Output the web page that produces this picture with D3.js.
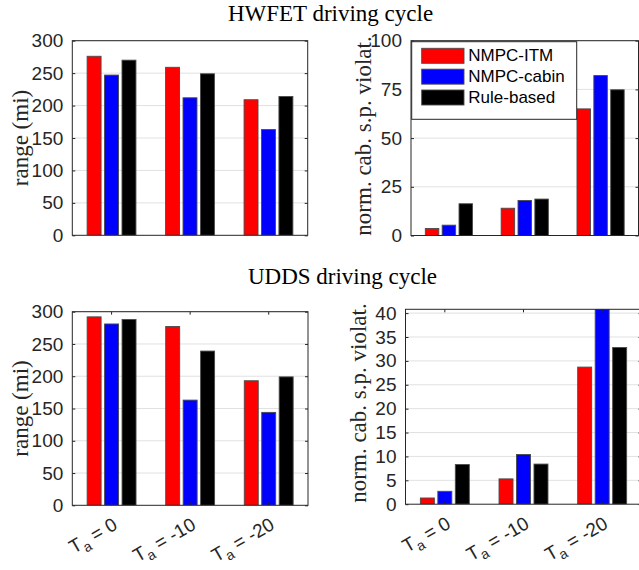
<!DOCTYPE html>
<html>
<head>
<meta charset="utf-8">
<script src="https://cdn.jsdelivr.net/npm/d3@7"></script>
<style>
  html, body { margin: 0; padding: 0; background: #fff; }
  svg { display: block; }
</style>
</head>
<body>
<svg id="chart" width="639" height="570"></svg>
<script>
// Ambient temperature cases (category labels: T_a = value)
const tempLabels = ["0", "-10", "-20"];
const seriesNames = ["NMPC-ITM", "NMPC-cabin", "Rule-based"];
const seriesColors = ["#ff0000", "#0000ff", "#000000"];

// HWFET cycle
const hwfetRangeITM   = [276, 259, 209];
const hwfetRangeCabin = [247, 212, 163];
const hwfetRangeRule  = [270, 249, 214];
const hwfetViolITM    = [3.6, 14.0, 65.0];
const hwfetViolCabin  = [5.3, 18.0, 82.1];
const hwfetViolRule   = [16.3, 18.7, 74.8];

// UDDS cycle
const uddsRangeITM    = [292, 277, 193];
const uddsRangeCabin  = [281, 163, 144];
const uddsRangeRule   = [288, 239, 199];
const uddsViolITM     = [1.3, 5.3, 28.7];
const uddsViolCabin   = [2.7, 10.4, 44.0];
const uddsViolRule    = [8.3, 8.4, 32.8];

// Y tick values
const rangeTicks = [0, 50, 100, 150, 200, 250, 300];
const hwfetViolTicks = [0, 25, 50, 75, 100];
const uddsViolTicks = [0, 5, 10, 15, 20, 25, 30, 35, 40];

const AXIS = "#262626";
const GRID = "#e1e1e1";
const EDGE = "#4a4a4a";
const SANS = "'Liberation Sans', Arial, Helvetica, sans-serif";
const SERIF = "'Liberation Serif', 'Times New Roman', serif";

const svg = d3.select("#chart");

const panels = [
  { box: [72.3, 307.7, 40.7, 235.3], yMax: 300, ticks: rangeTicks,
    series: [hwfetRangeITM, hwfetRangeCabin, hwfetRangeRule],
    ylabel: "range (mi)", ylx: 20, xTicks: false, legend: false },
  { box: [411, 638.5, 40.7, 235.5], yMax: 100, ticks: hwfetViolTicks,
    series: [hwfetViolITM, hwfetViolCabin, hwfetViolRule],
    ylabel: "norm. cab. s.p. violat.", ylx: 363, ylcy: 136, xTicks: false, legend: true },
  { box: [72.3, 308, 311.7, 505.3], yMax: 300, ticks: rangeTicks,
    series: [uddsRangeITM, uddsRangeCabin, uddsRangeRule],
    ylabel: "range (mi)", ylx: 20, xTicks: true, legend: false },
  { box: [405.5, 641.5, 309.3, 504.2], yMax: 40.8, ticks: uddsViolTicks,
    series: [uddsViolITM, uddsViolCabin, uddsViolRule],
    ylabel: "norm. cab. s.p. violat.", ylx: 358.3, ylcy: 403, xTicks: true, legend: false }
];

panels.forEach((p, pi) => {
  const [L, R, T, B] = p.box;
  const x = d3.scaleBand().domain(tempLabels).range([L, R]).padding(0);
  const cw = x.bandwidth();
  const xs = d3.scaleBand().domain(seriesNames)
    .range([cw * (0.5 - 1 / 3), cw * (0.5 + 1 / 3)])
    .paddingInner(0.2).paddingOuter(0.1);
  const y = d3.scaleLinear().domain([0, p.yMax]).range([B, T]);

  const g = svg.append("g");

  const clipId = "clip" + pi;
  svg.append("clipPath").attr("id", clipId)
    .append("rect").attr("x", L).attr("y", T).attr("width", R - L).attr("height", B - T);

  // grid
  g.append("g").selectAll("line").data(p.ticks.filter(t => t > 0)).join("line")
    .attr("x1", L).attr("x2", R)
    .attr("y1", d => y(d)).attr("y2", d => y(d))
    .attr("stroke", GRID).attr("stroke-width", 1);

  // bars
  const bars = g.append("g").attr("clip-path", `url(#${clipId})`);
  p.series.forEach((vals, si) => {
    bars.selectAll(null).data(vals).join("rect")
      .attr("x", (d, i) => x(tempLabels[i]) + xs(seriesNames[si]))
      .attr("width", xs.bandwidth())
      .attr("y", d => y(d))
      .attr("height", d => y(0) - y(d))
      .attr("fill", seriesColors[si])
      .attr("stroke", EDGE).attr("stroke-width", 0.9);
  });

  // y axis (left), with inside ticks mirrored on the right
  const yAxis = d3.axisLeft(y).tickValues(p.ticks).tickSizeInner(-3).tickSizeOuter(0)
    .tickPadding(9).tickFormat(d3.format("d"));
  const ya = g.append("g").attr("transform", `translate(${L},0)`).call(yAxis);
  ya.select(".domain").remove();
  ya.selectAll(".tick line").attr("stroke", AXIS);
  ya.selectAll(".tick text").attr("fill", AXIS).style("font-family", SANS).style("font-size", "19px");

  const yr = g.append("g").attr("transform", `translate(${R},0)`)
    .call(d3.axisRight(y).tickValues(p.ticks).tickSizeInner(-3).tickSizeOuter(0).tickFormat(""));
  yr.select(".domain").remove();
  yr.selectAll(".tick line").attr("stroke", AXIS);

  // x ticks at category centres (bottom and top)
  if (p.xTicks) {
    const centers = tempLabels.map(c => x(c) + cw / 2);
    g.append("g").selectAll("line").data(centers).join("line")
      .attr("x1", d => d).attr("x2", d => d).attr("y1", B).attr("y2", B - 3)
      .attr("stroke", AXIS);
    g.append("g").selectAll("line").data(centers).join("line")
      .attr("x1", d => d).attr("x2", d => d).attr("y1", T).attr("y2", T + 3)
      .attr("stroke", AXIS);

    const lab = g.append("g").selectAll("text").data(tempLabels).join("text")
      .attr("transform", d => `translate(${x(d) + cw / 2 + 7},${B + 23}) rotate(-30)`)
      .attr("text-anchor", "end")
      .attr("fill", AXIS)
      .style("font-family", SANS).style("font-size", "19px");
    lab.append("tspan").text("T");
    lab.append("tspan").attr("dy", 5).style("font-size", "14px").text("a");
    lab.append("tspan").attr("dy", -5).text(d => " = " + d);
  }

  // box
  g.append("rect").attr("x", L).attr("y", T).attr("width", R - L).attr("height", B - T)
    .attr("fill", "none").attr("stroke", AXIS).attr("stroke-width", 1);

  // y label
  const cy = p.ylcy !== undefined ? p.ylcy : (T + B) / 2;
  g.append("text")
    .attr("transform", `translate(${p.ylx},${cy}) rotate(-90)`)
    .attr("text-anchor", "middle").attr("dominant-baseline", "central")
    .attr("fill", AXIS)
    .style("font-family", SERIF).style("font-size", "23px")
    .text(p.ylabel);

  // legend
  if (p.legend) {
    const lg = g.append("g");
    lg.append("rect").attr("x", L + 0.7).attr("y", 41.7).attr("width", 165).attr("height", 77.6)
      .attr("fill", "#fff").attr("stroke", AXIS).attr("stroke-width", 1);
    seriesNames.forEach((name, i) => {
      const ry = 48.3 + i * 20.85;
      lg.append("rect").attr("x", L + 10.7).attr("y", ry).attr("width", 42.3).attr("height", 15)
        .attr("fill", seriesColors[i]).attr("stroke", EDGE).attr("stroke-width", 0.9);
      lg.append("text").attr("x", L + 57.3).attr("y", ry + 7.5)
        .attr("dominant-baseline", "central").attr("fill", "#000")
        .style("font-family", SANS).style("font-size", "17px").text(name);
    });
  }
});

// section titles
const titles = [["HWFET driving cycle", 330.5, 21], ["UDDS driving cycle", 342.5, 284]];
svg.selectAll("text.title").data(titles).join("text").attr("class", "title")
  .attr("x", d => d[1]).attr("y", d => d[2]).attr("text-anchor", "middle")
  .attr("fill", "#000")
  .style("font-family", SERIF).style("font-size", "23px")
  .text(d => d[0]);
</script>
</body>
</html>
